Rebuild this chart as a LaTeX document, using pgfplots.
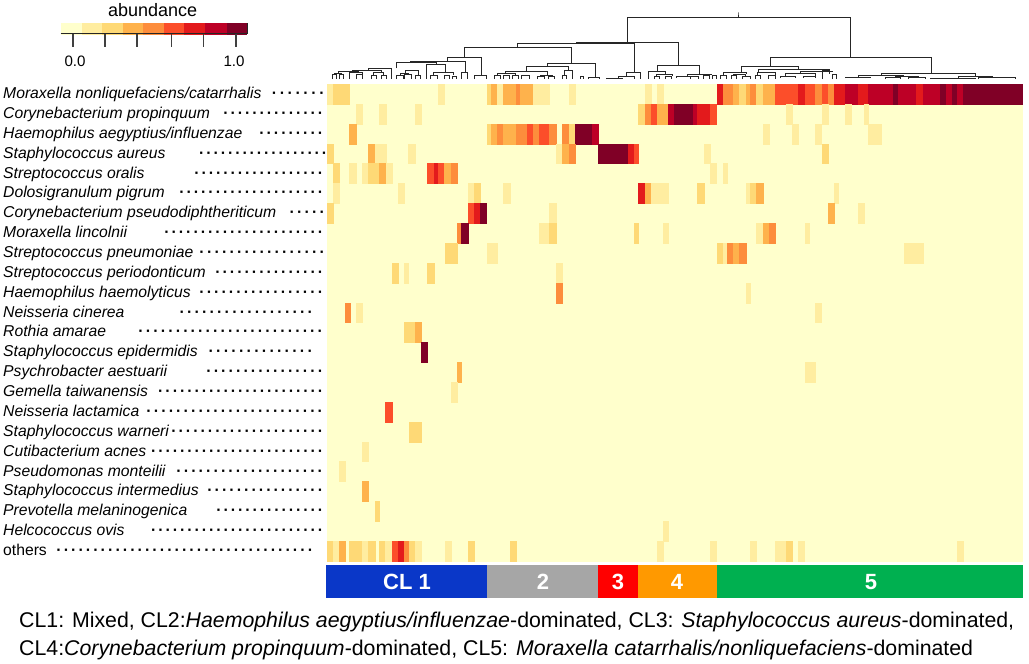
\documentclass[border=0pt]{standalone}
\usepackage{fontspec}
\setmainfont{Liberation Sans}
\usepackage{pgfplots}
\pgfplotsset{compat=1.18}
\definecolor{L0}{HTML}{FFFFCC}
\definecolor{L1}{HTML}{FFEDA0}
\definecolor{L2}{HTML}{FED976}
\definecolor{L3}{HTML}{FEB24C}
\definecolor{L4}{HTML}{FD8D3C}
\definecolor{L5}{HTML}{FC4E2A}
\definecolor{L6}{HTML}{E31A1C}
\definecolor{L7}{HTML}{BD0026}
\definecolor{L8}{HTML}{800026}
\definecolor{CA}{HTML}{0A37C8}
\definecolor{CB}{HTML}{A6A6A6}
\definecolor{CC}{HTML}{FF0000}
\definecolor{CD}{HTML}{FF9900}
\definecolor{CE}{HTML}{00B050}
% box: x0 x1 y0 y1 colour
\newcommand\B[5]{\addplot[draw=#5,line width=0.1pt,fill=#5,forget plot] coordinates {(#1,#3)(#2,#3)(#2,#4)(#1,#4)} --cycle;}
% heatmap cell: row x0 x1 level
\newcommand\C[4]{\pgfmathsetmacro\ya{84+19.87*#1}\pgfmathsetmacro\yb{84+19.87*(#1+1)}\B{#2}{#3}{\ya}{\yb}{L#4}}
% dendrogram node: xl xr top bottom-left bottom-right
\newcommand\U[5]{\addplot[line width=0.8pt,color=black!85,forget plot] coordinates {(#1,#4)(#1,#3)(#2,#3)(#2,#5)};}
% row label: row name dots-from dots-to
\newcommand\R[4]{%
\node[anchor=base west,inner sep=0pt] at (axis cs:3,{84+19.87*(#1+0.5)+4.6}) {\fontsize{15.7}{18}\selectfont #2};
\node[anchor=base west,inner sep=0pt] at (axis cs:#3,{84+19.87*(#1+0.5)+4.6}) {\fontsize{15.7}{18}\selectfont\bfseries\hbox to \dimexpr#4pt-#3pt\relax{\xleaders\hbox to 7.2pt{\hss·\hss}\hfill}};}
\begin{document}
\begin{tikzpicture}
\begin{axis}[scale only axis,width=1029pt,height=664pt,xmin=0,xmax=1029,ymin=0,ymax=664,y dir=reverse,hide axis,clip=false]
\path (axis cs:0,0) rectangle (axis cs:1029,664);
% background of the heatmap
\B{326.7}{1021.7}{84}{560.9}{L0}
% row 0
\C{0}{326.7}{332.7}{1}\C{0}{332.7}{349.3}{2}\C{0}{438.3}{444.3}{1}\C{0}{486.7}{491}{2}\C{0}{491}{497}{3}\C{0}{497}{503.3}{1}\C{0}{503.3}{516}{3}\C{0}{516}{520}{4}\C{0}{520}{532.7}{3}\C{0}{532.7}{549.3}{1}\C{0}{569}{575}{1}\C{0}{645}{650.7}{1}\C{0}{657.3}{663.3}{1}
\C{0}{716.7}{722.7}{6}\C{0}{722.7}{733.3}{4}\C{0}{733.3}{739.3}{3}\C{0}{739.3}{746}{2}\C{0}{746}{750}{3}\C{0}{750}{756}{4}\C{0}{756}{762.7}{2}\C{0}{762.7}{775}{3}\C{0}{775}{798.3}{5}\C{0}{798.3}{805}{6}\C{0}{805}{815}{5}\C{0}{815}{821.7}{4}\C{0}{821.7}{827.7}{5}\C{0}{827.7}{834.3}{4}\C{0}{834.3}{845}{6}\C{0}{845}{857.7}{7}\C{0}{857.7}{868.3}{6}\C{0}{868.3}{893.3}{7}\C{0}{893.3}{897.7}{8}\C{0}{897.7}{916}{7}\C{0}{916}{922.7}{6}\C{0}{922.7}{940}{7}\C{0}{940}{946}{8}\C{0}{946}{952}{7}\C{0}{952}{956.7}{8}\C{0}{956.7}{963}{7}\C{0}{963}{1021.7}{8}
% row 1
\C{1}{355.7}{362}{1}\C{1}{379.3}{385.7}{1}\C{1}{415}{420.7}{1}\C{1}{638.3}{645}{2}\C{1}{645}{650.7}{4}\C{1}{650.7}{657.3}{5}\C{1}{657.3}{667.7}{3}\C{1}{667.7}{674}{7}\C{1}{674}{693.3}{8}\C{1}{693.3}{697}{7}\C{1}{697}{710}{6}\C{1}{710}{716}{5}\C{1}{786}{791.7}{1}\C{1}{821.7}{827.7}{1}\C{1}{845}{851}{1}\C{1}{863.7}{868}{1}
% row 2
\C{2}{349.3}{355.7}{3}\C{2}{486.7}{491}{2}\C{2}{491}{497}{3}\C{2}{497}{503.3}{4}\C{2}{503.3}{516}{3}\C{2}{516}{526.7}{4}\C{2}{526.7}{532.7}{5}\C{2}{532.7}{539}{4}\C{2}{539}{549.3}{5}\C{2}{549.3}{556}{4}\C{2}{562.3}{569}{4}\C{2}{569}{575}{2}\C{2}{575}{592}{8}\C{2}{592}{598.3}{7}\C{2}{762.7}{769}{1}\C{2}{791.7}{798.3}{1}\C{2}{815}{821}{1}\C{2}{868.3}{880.7}{1}
% row 3
\C{3}{326.7}{332.7}{2}\C{3}{368.3}{375}{3}\C{3}{375}{385.7}{1}\C{3}{408.3}{415}{1}\C{3}{555.7}{562.3}{1}\C{3}{562.3}{569}{3}\C{3}{569}{575}{4}\C{3}{598.3}{627.7}{8}\C{3}{627.7}{634}{6}\C{3}{634}{638.3}{5}\C{3}{704}{710}{1}\C{3}{821.7}{827.7}{2}
% row 4
\C{4}{332.7}{339}{2}\C{4}{349.3}{355.7}{1}\C{4}{362}{368.3}{1}\C{4}{368.3}{379.3}{2}\C{4}{379.3}{385.7}{3}\C{4}{385.7}{391.7}{1}\C{4}{427.3}{434}{5}\C{4}{434}{438.3}{6}\C{4}{438.3}{444.3}{5}\C{4}{444.3}{451}{3}\C{4}{451}{457}{4}\C{4}{710}{716}{1}\C{4}{722.7}{726.7}{1}
% row 5
\C{5}{332.7}{339}{1}\C{5}{397.7}{404}{1}\C{5}{467.7}{474}{1}\C{5}{474}{480}{2}\C{5}{503.3}{509.7}{1}\C{5}{638.3}{645}{6}\C{5}{645}{650.7}{3}\C{5}{650.7}{667.7}{1}\C{5}{697}{703.7}{2}\C{5}{746}{750}{1}\C{5}{750}{756}{2}\C{5}{756}{762.7}{3}\C{5}{834.3}{838.3}{1}
% row 6
\C{6}{326.7}{332.7}{2}\C{6}{467.7}{474}{5}\C{6}{474}{480}{6}\C{6}{480}{486}{8}\C{6}{549.3}{556}{1}\C{6}{827.7}{834}{3}\C{6}{857.7}{863.7}{1}
% row 7
\C{7}{457}{461.3}{4}\C{7}{461.3}{467.7}{8}\C{7}{539}{549.3}{1}\C{7}{549.3}{556}{2}\C{7}{634}{638.3}{2}\C{7}{663.3}{667.7}{1}\C{7}{756}{762.7}{1}\C{7}{762.7}{769}{3}\C{7}{769}{775}{4}\C{7}{805}{809}{1}
% row 8
\C{8}{445}{457}{2}\C{8}{486.7}{496.7}{1}\C{8}{716.7}{722.7}{2}\C{8}{722.7}{726.7}{1}\C{8}{726.7}{733.3}{4}\C{8}{733.3}{739.3}{3}\C{8}{739.3}{745.7}{4}\C{8}{904}{922.7}{1}
% row 9
\C{9}{391.7}{397.7}{2}\C{9}{404}{408.3}{1}\C{9}{427.3}{433.7}{2}\C{9}{556}{562.3}{1}
% row 10
\C{10}{556}{562.3}{4}\C{10}{746}{750}{1}
% row 11
\C{11}{345.3}{349.7}{4}\C{11}{355.7}{362}{1}\C{11}{815}{821}{1}
% rows 12 to 22
\C{12}{404}{415}{2}\C{12}{415}{421}{3}
\C{13}{421}{427.3}{8}
\C{14}{457}{461.3}{3}\C{14}{805}{815}{1}
\C{15}{451}{457}{1}
\C{16}{385.3}{391.7}{5}
\C{17}{408.7}{421}{2}
\C{18}{362}{368.3}{1}
\C{19}{339}{345.3}{1}
\C{20}{362}{368.3}{3}
\C{21}{375}{379.3}{2}
\C{22}{663.3}{667.7}{1}
% row 23
\C{23}{326.7}{332.7}{2}\C{23}{332.7}{339}{1}\C{23}{339}{345.3}{3}\C{23}{349.3}{362}{2}\C{23}{362}{368.3}{1}\C{23}{368.3}{375}{2}\C{23}{379}{385.3}{2}\C{23}{385.3}{391.7}{1}\C{23}{391.7}{397.7}{5}\C{23}{397.7}{404}{6}\C{23}{404}{408.7}{4}\C{23}{408.7}{415}{2}\C{23}{415}{421}{1}\C{23}{445}{451}{1}\C{23}{467.7}{474}{2}\C{23}{510}{516}{2}\C{23}{657.3}{663.3}{1}\C{23}{710}{716}{1}\C{23}{750}{756}{1}\C{23}{775}{785.7}{1}\C{23}{785.7}{791.7}{2}\C{23}{798.3}{804.3}{1}\C{23}{956.7}{962.7}{1}
% cluster bar
\B{326}{486.7}{565}{597}{CA}\B{486.7}{598.3}{565}{597}{CB}\B{598.3}{638.3}{565}{597}{CC}\B{638.3}{716.7}{565}{597}{CD}\B{716.7}{1021.7}{565}{597}{CE}
% colour key
\B{60.7}{82.3}{23.3}{33.7}{L0}\B{82.3}{101.7}{23.3}{33.7}{L1}\B{101.7}{123.3}{23.3}{33.7}{L2}\B{123.3}{143.3}{23.3}{33.7}{L3}\B{143.3}{163.7}{23.3}{33.7}{L4}\B{163.7}{184}{23.3}{33.7}{L5}\B{184}{205}{23.3}{33.7}{L6}\B{205}{226.7}{23.3}{33.7}{L7}\B{226.7}{246.5}{23.3}{33.7}{L8}
\addplot[line width=1.2pt,color=black!85,forget plot] coordinates {(60.7,33.7)(247.3,33.7)(247.3,23.3)};
\addplot[line width=1.6pt,color=black!75,forget plot] coordinates {(72.7,33.7)(72.7,47.3)};
\addplot[line width=1.6pt,color=black!75,forget plot] coordinates {(105,33.7)(105,47.3)};
\addplot[line width=1.6pt,color=black!75,forget plot] coordinates {(137,33.7)(137,47.3)};
\addplot[line width=1.6pt,color=black!75,forget plot] coordinates {(171.3,33.7)(171.3,47.3)};
\addplot[line width=1.6pt,color=black!75,forget plot] coordinates {(203.3,33.7)(203.3,47.3)};
\addplot[line width=1.6pt,color=black!75,forget plot] coordinates {(235.7,33.7)(235.7,47.3)};
% dendrogram: upper nodes
\U{738}{738}{12.3}{17.7}{17.7}
\U{627.7}{850.5}{17.7}{42.3}{57.7}
\U{576.8}{678.2}{42.3}{43.7}{65}
\U{517.7}{634.5}{43.7}{47.7}{72.7}
\U{464.5}{570.9}{47.7}{57.7}{63}
\U{447.3}{481.8}{57.7}{61.5}{75}
\U{474}{486}{75}{79}{79}
\U{410.8}{465.7}{61.5}{62.5}{72.5}
\U{461.7}{467}{72.5}{79}{79}
\U{396}{436}{62.5}{68.3}{64}
\U{426.7}{445}{64}{79}{72.3}
\U{433}{453}{72.3}{75}{75}
\U{430}{437}{75}{79}{79}
\U{444}{449}{75}{79}{79}
\U{452}{456}{76}{79}{79}
% dendrogram: cluster 1 left part
\U{368}{391.7}{68.3}{70}{79}
\U{352}{381}{70}{71.5}{72.5}
\U{338}{358}{71.5}{73}{72.3}
\U{334}{341}{73}{74}{74}
\U{332}{336.5}{74}{79}{79}
\U{339}{343.5}{74}{79}{79}
\U{349.3}{362}{72.3}{79}{74}
\U{356}{362}{74}{79}{79}
\U{373.3}{383.3}{72.5}{75.5}{75}
\U{371}{376}{75.5}{79}{79}
\U{381}{386}{75}{79}{79}
\U{405}{418}{70}{73}{75.7}
\U{400}{408}{73}{75.7}{74}
\U{396.7}{403.3}{75.7}{79}{79}
\U{404}{411.7}{74}{79}{79}
\U{415}{420.7}{75.7}{79}{79}
% dendrogram: cluster 2
\U{547.3}{595}{63}{66.3}{77.5}
\U{526}{568}{66.3}{71}{70}
\U{564}{572.3}{70}{75}{79}
\U{562}{566}{75}{79}{79}
\U{588}{599.5}{77.5}{79}{79}
\U{505}{547}{71}{73}{75}
\U{497}{515}{73}{75}{75}
\U{494}{500}{75}{79}{79}
\U{503}{509}{75}{79}{79}
\U{512}{518}{75}{79}{79}
\U{521}{529}{75}{79}{79}
\U{540}{552}{75}{76.5}{76.5}
\U{537}{544}{76.5}{79}{79}
\U{548}{554}{76.5}{79}{79}
\U{580}{583}{76}{79}{79}
% dendrogram: cluster 3
\U{626}{640}{72.7}{76.5}{79}
\U{618}{634}{76.5}{78}{79}
\U{606}{622}{78}{79}{79}
% dendrogram: cluster 4
\U{657}{699.5}{65}{71}{74}
\U{648}{665.5}{71}{79}{74.5}
\U{656}{672}{74.5}{76}{76}
\U{654}{659}{76}{79}{79}
\U{665}{671}{76}{79}{79}
\U{687}{711}{74}{76.5}{75}
\U{676}{694}{76.5}{78}{76}
\U{690}{698}{76}{79}{79}
\U{703}{709}{75}{79}{79}
\U{712}{716}{75}{79}{79}
% dendrogram: cluster 5
\U{770}{931.4}{57.7}{66.7}{73.3}
\U{741.4}{798}{66.7}{72.7}{69}
\U{723}{746.7}{72.7}{75.5}{74}
\U{720}{726}{75.5}{79}{79}
\U{733}{745}{74}{75.5}{76}
\U{731}{736}{75.5}{79}{79}
\U{742}{750}{76}{79}{79}
\U{758.6}{829}{69}{72.5}{71}
\U{757}{775}{72.5}{75}{75}
\U{755}{760}{75}{79}{79}
\U{768}{775}{75}{79}{79}
\U{800}{832}{71}{73}{70.7}
\U{785}{815}{73}{76.5}{76}
\U{780}{795}{76.5}{78}{77}
\U{803}{815}{76}{77.5}{77.5}
\U{822}{829}{70.7}{79}{74}
\U{832}{836}{74}{79}{79}
\U{881}{975}{73.3}{75}{76}
\U{858}{903}{75}{77}{76}
\U{845}{870}{77}{78}{78}
\U{895}{918}{76}{77.5}{77.5}
\U{885}{900}{77.5}{79}{79}
\U{908}{925}{77.5}{79}{79}
\U{958}{992}{76}{78}{77.5}
\U{930}{975}{78}{79}{79}
\U{978}{1015}{77.5}{79}{79}
% labels
\R{0}{\textit{Moraxella nonliquefaciens/catarrhalis}}{270}{326}
\R{1}{\textit{Corynebacterium propinquum}}{222}{324}
\R{2}{\textit{Haemophilus aegyptius/influenzae}}{258}{324}
\R{3}{\textit{Staphylococcus aureus}}{198}{328}
\R{4}{\textit{Streptococcus oralis}}{193}{324}
\R{5}{\textit{Dolosigranulum pigrum}}{178}{324}
\R{6}{\textit{Corynebacterium pseudodiphtheriticum}}{288}{326}
\R{7}{\textit{Moraxella lincolnii}}{163}{324}
\R{8}{\textit{Streptococcus pneumoniae}}{198}{326}
\R{9}{\textit{Streptococcus periodonticum}}{214}{324}
\R{10}{\textit{Haemophilus haemolyticus}}{198}{324}
\R{11}{\textit{Neisseria cinerea}}{178}{314}
\R{12}{\textit{Rothia amarae}}{137}{324}
\R{13}{\textit{Staphylococcus epidermidis}}{207}{314}
\R{14}{\textit{Psychrobacter aestuarii}}{205}{324}
\R{15}{\textit{Gemella taiwanensis}}{157}{324}
\R{16}{\textit{Neisseria lactamica}}{145}{324}
\R{17}{\textit{Staphylococcus warneri}}{170}{324}
\R{18}{\textit{Cutibacterium acnes}}{150}{324}
\R{19}{\textit{Pseudomonas monteilii}}{175}{324}
\R{20}{\textit{Staphylococcus intermedius}}{206}{324}
\R{21}{\textit{Prevotella melaninogenica}}{215}{324}
\R{22}{\textit{Helcococcus ovis}}{150}{324}
\R{23}{others}{55}{314}
\node[anchor=base,inner sep=0pt] at (axis cs:152.7,16.7) {\fontsize{18}{20}\selectfont abundance};
\node[anchor=base,inner sep=0pt] at (axis cs:75,66) {\fontsize{15.1}{18}\selectfont 0.0};
\node[anchor=base,inner sep=0pt] at (axis cs:234,66) {\fontsize{15.1}{18}\selectfont 1.0};
\node[anchor=base,inner sep=0pt,text=white] at (axis cs:407,589) {\fontsize{22}{24}\selectfont\bfseries CL 1};
\node[anchor=base,inner sep=0pt,text=white] at (axis cs:543,589) {\fontsize{22}{24}\selectfont\bfseries 2};
\node[anchor=base,inner sep=0pt,text=white] at (axis cs:618,589) {\fontsize{22}{24}\selectfont\bfseries 3};
\node[anchor=base,inner sep=0pt,text=white] at (axis cs:677,589) {\fontsize{22}{24}\selectfont\bfseries 4};
\node[anchor=base,inner sep=0pt,text=white] at (axis cs:871,589) {\fontsize{22}{24}\selectfont\bfseries 5};
\node[anchor=base west,inner sep=0pt] at (axis cs:19,627) {\fontsize{21.3}{24}\selectfont CL1: Mixed, CL2:\textit{Haemophilus aegyptius/influenzae}-dominated, CL3: \textit{Staphylococcus aureus}-dominated,};
\node[anchor=base west,inner sep=0pt] at (axis cs:19,655) {\fontsize{21.3}{24}\selectfont CL4:\textit{Corynebacterium propinquum}-dominated, CL5: \textit{Moraxella catarrhalis/nonliquefaciens}-dominated};
\end{axis}
\end{tikzpicture}
\end{document}
